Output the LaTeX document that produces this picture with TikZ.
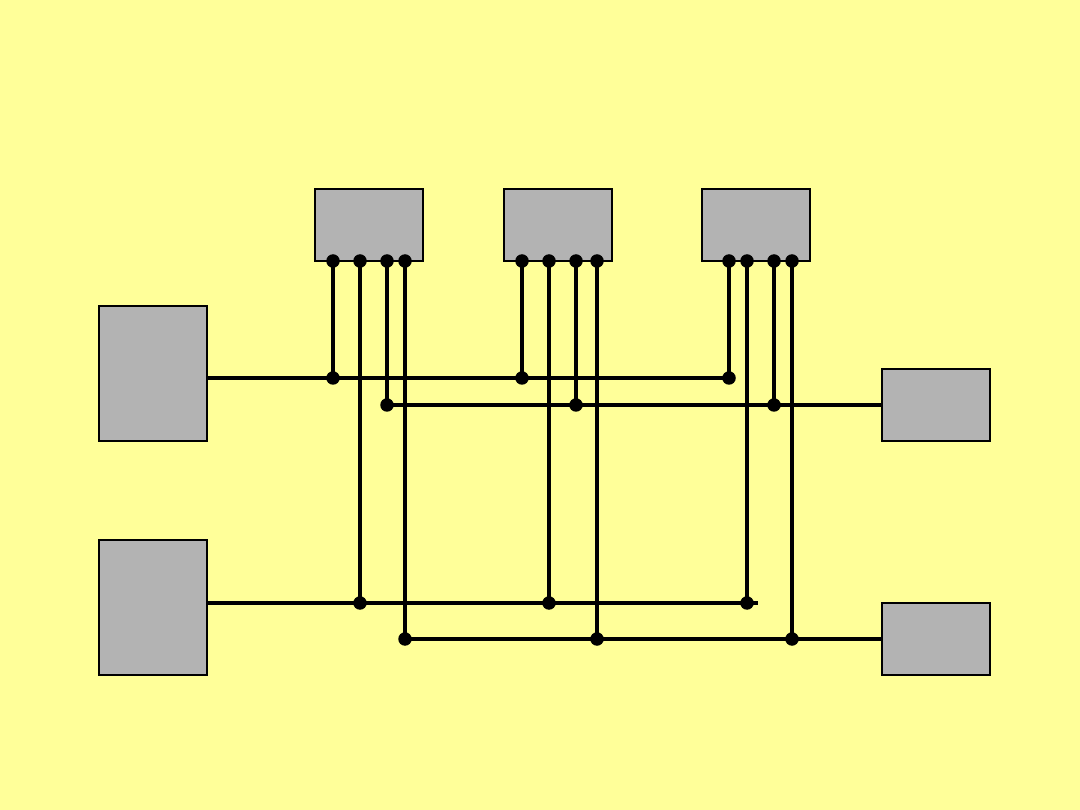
\documentclass[tikz,border=0pt]{standalone}
\definecolor{bgyellow}{RGB}{255,255,153}
\definecolor{boxgray}{RGB}{179,179,179}
\begin{document}
\begin{tikzpicture}[x=1pt,y=-1pt,
  box/.style={draw=black,line width=1.8pt,fill=boxgray,inner sep=0pt},
  wire/.style={line width=3.4pt,black},
  dot/.style={circle,fill=black,inner sep=0pt,minimum size=13.5pt}]
\fill[bgyellow] (0,0) rectangle (1080,810);
\useasboundingbox (0,0) rectangle (1080,810);
% boxes
\node[box,minimum width=108pt,minimum height=72pt] (t1) at (369,225) {};
\node[box,minimum width=108pt,minimum height=72pt] (t2) at (558,225) {};
\node[box,minimum width=108pt,minimum height=72pt] (t3) at (756,225) {};
\node[box,minimum width=108pt,minimum height=135pt] (l1) at (153,373.5) {};
\node[box,minimum width=108pt,minimum height=135pt] (l2) at (153,607.5) {};
\node[box,minimum width=108pt,minimum height=72pt] (r1) at (936,405) {};
\node[box,minimum width=108pt,minimum height=72pt] (r2) at (936,639) {};
% top pins
\foreach \n/\x in {a1/333,a2/360,a3/387,a4/405,b1/522,b2/549,b3/576,b4/597,c1/729,c2/747,c3/774,c4/792}
  \coordinate (\n) at (\x,261);
% junctions
\foreach \n/\x/\y in {ja1/333/378,jb1/522/378,jc1/729/378,
                      ja3/387/405,jb3/576/405,jc3/774/405,
                      ja2/360/603,jb2/549/603,jc2/747/603,
                      ja4/405/639,jb4/597/639,jc4/792/639}
  \coordinate (\n) at (\x,\y);
\coordinate (e2) at (758,603);
% horizontal wires
\draw[wire] (l1.east |- ja1) -- (jc1);
\draw[wire] (ja3) -- (r1.west);
\draw[wire] (l2.east |- ja2) -- (e2);
\draw[wire] (ja4) -- (r2.west);
% vertical wires
\draw[wire] (a1) -- (ja1);
\draw[wire] (a2) -- (ja2);
\draw[wire] (a3) -- (ja3);
\draw[wire] (a4) -- (ja4);
\draw[wire] (b1) -- (jb1);
\draw[wire] (b2) -- (jb2);
\draw[wire] (b3) -- (jb3);
\draw[wire,line width=4.6pt] (b4) -- (jb4);
\draw[wire] (c1) -- (jc1);
\draw[wire] (c2) -- (jc2);
\draw[wire] (c3) -- (jc3);
\draw[wire] (c4) -- (jc4);
% dots
\foreach \n in {a1,a2,a3,a4,b1,b2,b3,b4,c1,c2,c3,c4,
                ja1,jb1,jc1,ja3,jb3,jc3,ja2,jb2,jc2,ja4,jb4,jc4}
  \node[dot] (d\n) at (\n) {};
\end{tikzpicture}
\end{document}
